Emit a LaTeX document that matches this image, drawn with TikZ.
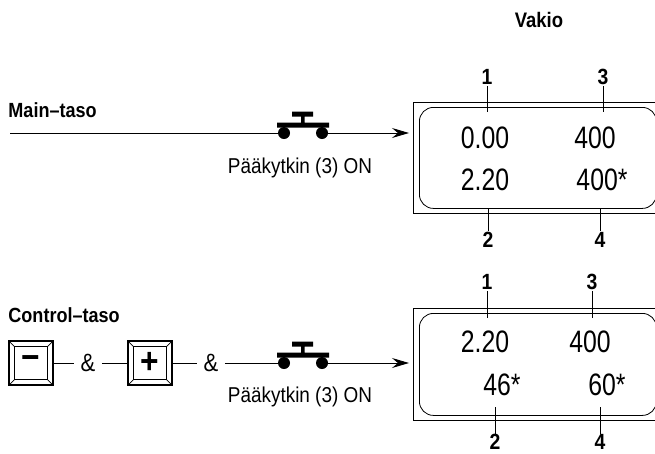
\documentclass[tikz,border=0pt]{standalone}
\usepackage{fontspec}
\setmainfont{Liberation Sans}[FakeStretch=0.88]
\newfontfamily\lcdfont{Liberation Sans}[FakeStretch=0.8]
\usetikzlibrary{arrows.meta}

\begin{document}
\begin{tikzpicture}[x=1pt,y=-1pt,>={Stealth[length=17pt,width=10pt,inset=6pt]},line width=0.9pt,
  lbl/.style={font=\bfseries\fontsize{20.5}{20.5}\selectfont,anchor=west,inner sep=0pt},
  num/.style={font=\bfseries\fontsize{22}{22}\selectfont,inner sep=1pt},
  lcd/.style={font=\lcdfont\fontsize{31}{31}\selectfont,inner sep=0pt},
  swlabel/.style={font=\fontsize{21.5}{21.5}\selectfont},
  knob/.style={circle,fill,inner sep=0pt,minimum size=12pt},
  btn/.style={draw,line width=1.3pt,minimum size=44pt,inner sep=0pt,font=\bfseries\fontsize{36}{36}\selectfont},
  amp/.style={font=\fontsize{25}{25}\selectfont,inner xsep=6pt},
  frame/.style={draw,anchor=north west,inner sep=0pt,line width=0.8pt},
  screen/.style={frame,rounded corners=14pt}]
\useasboundingbox (0,0) rectangle (655,453);

\node[font=\bfseries\fontsize{21}{21}\selectfont] (vak) at (539,20) {Vakio};

% Main-taso
\node[lbl] (main) at (8,110) {Main--taso};
\coordinate (m0) at (10,133);
\node[knob] (k1) at (284,133) {};
\node[knob] (k2) at (322,133) {};
\fill (277,122.5) rectangle (329,127.5) (301,115) rectangle (304.5,123) (292,111.5) rectangle (313,116.5);
\node[swlabel] (pk1) at (300,168) {Pääkytkin (3) ON};

\node[frame,minimum width=270pt,minimum height=111pt] (frA) at (413,102) {};
\node[screen,minimum width=237pt,minimum height=101pt] (scrA) at (419,107) {};
\draw (m0) -- (k1);
\draw[->,shorten >=4pt] (k2) -- (k2 -| frA.west);

\node[lcd] (dA1) at (485,138) {0.00};
\node[lcd] (dA3) at (595,138) {400};
\node[lcd] (dA2) at (485,180) {2.20};
\node[lcd] (dA4) at (602,180) {400*};
\node[num] (nA1) at (487,77) {1};
\node[num] (nA3) at (603,77) {3};
\node[num] (nA2) at (488,240) {2};
\node[num] (nA4) at (600,240) {4};
\draw (nA1.south) -- ++(0,26);
\draw (nA3.south) -- ++(0,26);
\draw (nA2.north) -- ++(0,-23);
\draw (nA4.north) -- ++(0,-23);

% Control-taso
\node[lbl] (ctrl) at (8,315) {Control--taso};
\node[btn] (bm) at (31,363) {−};
\node[amp] (am1) at (88,363) {\&};
\node[btn] (bp) at (150,363) {+};
\node[amp] (am2) at (211,363) {\&};
\foreach \b in {bm,bp}{
  \draw[line width=1.2pt] ([shift={(6,6)}]\b.north west) rectangle ([shift={(-6,-6)}]\b.south east);
  \draw[line width=0.7pt] (\b.north west) -- ++(6,6) (\b.north east) -- ++(-6,6)
    (\b.south west) -- ++(6,-6) (\b.south east) -- ++(-6,-6);
}
\node[knob] (k3) at (284,363) {};
\node[knob] (k4) at (322,363) {};
\fill (277,352.5) rectangle (329,357.5) (301,345) rectangle (304.5,353) (292,341.5) rectangle (313,346.5);
\node[swlabel] (pk2) at (300,397) {Pääkytkin (3) ON};
\draw (bm) -- (am1) (am1) -- (bp) (bp) -- (am2) (am2) -- (k3);

\node[frame,minimum width=270pt,minimum height=112pt] (frB) at (413,308) {};
\node[screen,minimum width=237pt,minimum height=102pt] (scrB) at (419,313) {};
\draw[->,shorten >=4pt] (k4) -- (k4 -| frB.west);

\node[lcd] (dB1) at (485,342) {2.20};
\node[lcd] (dB3) at (590,342) {400};
\node[lcd] (dB2) at (502,385) {46*};
\node[lcd] (dB4) at (607,385) {60*};
\node[num] (nB1) at (487,282) {1};
\node[num] (nB3) at (592,282) {3};
\node[num,inner sep=0pt] (nB2) at (495,442) {2};
\node[num,inner sep=0pt] (nB4) at (600,442) {4};
\draw (nB1.south) -- ++(0,27);
\draw (nB3.south) -- ++(0,27);
\draw (nB2.north) -- ++(0,-27);
\draw (nB4.north) -- ++(0,-27);
\end{tikzpicture}
\end{document}
